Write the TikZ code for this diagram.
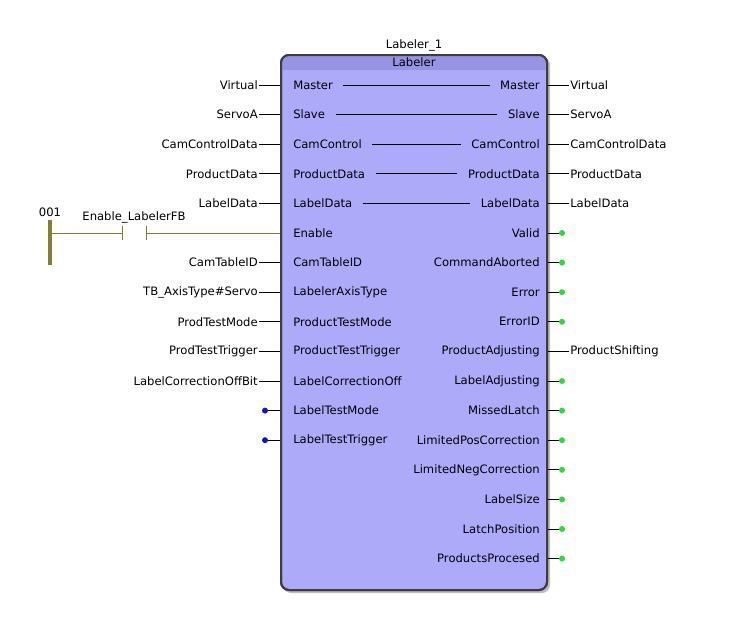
\documentclass[tikz,border=0pt]{standalone}
\usepackage{fontspec}
\setmainfont{DejaVu Sans}
\usetikzlibrary{positioning}
\definecolor{fbbody}{RGB}{173,170,250}
\definecolor{fbtitle}{RGB}{152,148,228}
\definecolor{fbedge}{RGB}{60,60,66}
\definecolor{rung}{RGB}{130,128,48}
\definecolor{outdot}{RGB}{40,220,60}
\definecolor{indot}{RGB}{20,20,200}

\begin{document}
\begin{tikzpicture}[x=0.75pt,y=-0.75pt]
\tikzstyle{every node}=[font=\fontsize{8.7}{10}\selectfont, inner sep=0.75pt]
\tikzstyle{fbbox}=[draw=fbedge, line width=1.5pt, fill=fbbody, rounded corners=6pt,
	minimum width=199.5pt, minimum height=401.25pt, inner sep=0pt]
\tikzstyle{inpin}=[anchor=west]
\tikzstyle{outpin}=[anchor=east]
\tikzstyle{wire}=[draw, line width=0.6pt]
\tikzstyle{gdot}=[circle, fill=outdot, inner sep=0pt, minimum size=4.5pt]
\tikzstyle{bdot}=[circle, fill=indot, inner sep=0pt, minimum size=4.5pt]
\useasboundingbox (0,0) rectangle (737,636);

% shadow, body and title bar
\fill[black!25, rounded corners=6pt] (283,57) rectangle (550,593);
\node[fbbox] (fb) at (414,322.5) {};
\fill[fbtitle] (282,70) {[rounded corners=5pt] -- (282,56) -- (546,56)} -- (546,70) -- cycle;
\draw[fbedge, line width=1.5pt, rounded corners=6pt] (281,55) rectangle (547,590);
\node (title) at (414,62.5) {Labeler};
\node (inst) at (414,45) {Labeler\_1};

% inputs
\foreach \i/\ext/\pin in {1/Virtual/Master,2/ServoA/Slave,3/CamControlData/CamControl,
	4/ProductData/ProductData,5/LabelData/LabelData,7/CamTableID/CamTableID,
	8/TB\_AxisType\#Servo/LabelerAxisType,9/ProdTestMode/ProductTestMode,
	10/ProdTestTrigger/ProductTestTrigger,11/LabelCorrectionOffBit/LabelCorrectionOff}
{
	\node[inpin] (in\i) at (292,{85+(\i-1)*29.6}) {\pin};
	\node[outpin] (src\i) at (259,{85+(\i-1)*29.6}) {\ext};
	\draw[wire] (src\i.east) -- (src\i.east -| fb.west);
}
\foreach \i/\pin in {6/Enable,12/LabelTestMode,13/LabelTestTrigger}
	\node[inpin] (in\i) at (292,{85+(\i-1)*29.6}) {\pin};
\foreach \i in {12,13} {
	\node[bdot] (bd\i) at (265,{85+(\i-1)*29.6}) {};
	\draw[wire] (bd\i) -- (bd\i -| fb.west);
}

% outputs
\foreach \i/\pin/\ext in {1/Master/Virtual,2/Slave/ServoA,3/CamControl/CamControlData,
	4/ProductData/ProductData,5/LabelData/LabelData,10/ProductAdjusting/ProductShifting}
{
	\node[outpin] (out\i) at (541,{85+(\i-1)*29.6}) {\pin};
	\node[anchor=west] (dst\i) at (569,{85+(\i-1)*29.6}) {\ext};
	\draw[wire] (dst\i.west -| fb.east) -- (dst\i.west);
}
\foreach \i/\pin in {6/Valid,7/CommandAborted,8/Error,9/ErrorID,11/LabelAdjusting,
	12/MissedLatch,13/LimitedPosCorrection,14/LimitedNegCorrection,15/LabelSize,
	16/LatchPosition,17/ProductsProcesed}
{
	\node[outpin] (out\i) at (541,{85+(\i-1)*29.6}) {\pin};
	\node[gdot] (gd\i) at (562,{85+(\i-1)*29.6}) {};
	\draw[wire] (gd\i -| fb.east) -- (gd\i);
}

% pass-through lines
\foreach \i in {1,...,5}
	\draw[wire, shorten <=7pt, shorten >=7pt] (in\i.east) -- (out\i.west);

% ladder rung
\draw[rung, line width=3pt] (50,220) -- (50,265);
\node (rungno) at (50,212) {001};
\coordinate (rail) at (50,233);
\coordinate (ca) at (122,233);
\coordinate (cb) at (146,233);
\node (contact) at (134,217) {Enable\_LabelerFB};
\draw[rung, line width=0.7pt] (rail) -- (ca);
\draw[rung, line width=0.7pt] ([yshift=-5.5pt]ca) -- ([yshift=5.5pt]ca);
\draw[rung, line width=0.7pt] ([yshift=-5.5pt]cb) -- ([yshift=5.5pt]cb);
\draw[rung, line width=0.7pt] (cb) -- (cb -| fb.west);
\end{tikzpicture}
\end{document}
